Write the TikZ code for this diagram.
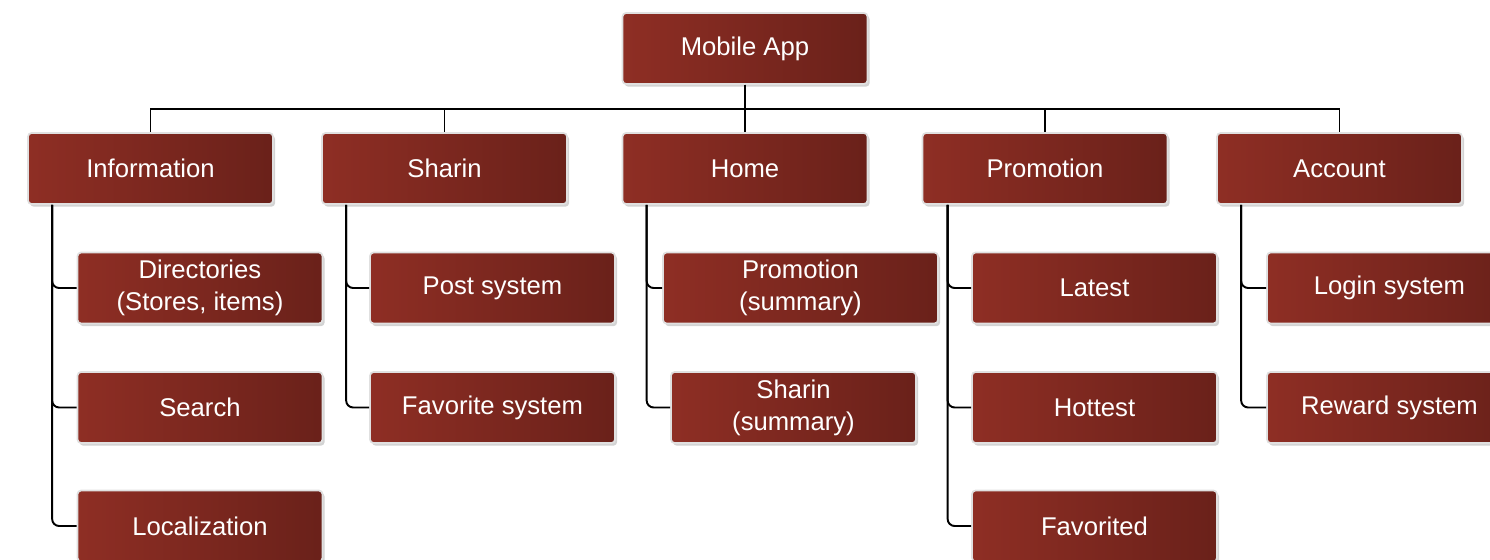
\documentclass[tikz,border=0pt]{standalone}
\usepackage{fontspec}
\setmainfont{Liberation Sans}
\usetikzlibrary{shadows}

\definecolor{boxlight}{RGB}{142,46,36}
\definecolor{boxdark}{RGB}{106,33,26}

\tikzset{
	box/.style={draw=white!88!black, line width=1pt, rounded corners=2pt,
		left color=boxlight, right color=boxdark, text=white,
		minimum width=4.9cm, minimum height=1.42cm, align=center,
		font=\fontsize{14.6}{18.2}\selectfont,
		drop shadow={shadow xshift=1.2pt, shadow yshift=-1.5pt, opacity=0.35}},
	bus/.style={line width=1.1pt},
	link/.style={line width=1.1pt, rounded corners=4pt}
}

\begin{document}
\begin{tikzpicture}[x=0.02cm, y=-0.02cm]
		\useasboundingbox (0,0) rectangle (1490,559);

		\node[box] (app) at (745,48.5) {Mobile App};

		\node[box] (info) at (150.5,168.5) {Information};
		\node[box] (sharin) at (444.5,168.5) {Sharin};
		\node[box] (home) at (745,168.5) {Home};
		\node[box] (promo) at (1045,168.5) {Promotion};
		\node[box] (account) at (1339.5,168.5) {Account};

		\draw[bus] (app.south) -- ++(0,24) -| (info.north);
		\draw[bus] (app.south) -- ++(0,24) -| (sharin.north);
		\draw[bus] (app.south) -- (home.north);
		\draw[bus] (app.south) -- ++(0,24) -| (promo.north);
		\draw[bus] (app.south) -- ++(0,24) -| (account.north);

		\node[box] (dir) at (200,288) {Directories\\(Stores, items)};
		\node[box] (search) at (200,407.5) {Search};
		\node[box] (local) at (200,526) {Localization};
		\draw[link] ([xshift=0.5cm]info.south west) |- (dir.west);
		\draw[link] ([xshift=0.5cm]info.south west) |- (search.west);
		\draw[link] ([xshift=0.5cm]info.south west) |- (local.west);

		\node[box] (post) at (492.5,288) {Post system};
		\node[box] (fav) at (492.5,407.5) {Favorite system};
		\draw[link] ([xshift=0.5cm]sharin.south west) |- (post.west);
		\draw[link] ([xshift=0.5cm]sharin.south west) |- (fav.west);

		\node[box, minimum width=5.5cm] (promsum) at (800.5,288) {Promotion\\(summary)};
		\node[box] (sharsum) at (793.5,407.5) {Sharin\\(summary)};
		\draw[link] ([xshift=0.5cm]home.south west) |- (promsum.west);
		\draw[link] ([xshift=0.5cm]home.south west) |- (sharsum.west);

		\node[box] (latest) at (1094.5,288) {Latest};
		\node[box] (hottest) at (1094.5,407.5) {Hottest};
		\node[box] (favd) at (1094.5,526) {Favorited};
		\draw[link] ([xshift=0.52cm]promo.south west) |- (latest.west);
		\draw[link] ([xshift=0.52cm]promo.south west) |- (hottest.west);
		\draw[link] ([xshift=0.52cm]promo.south west) |- (favd.west);

		\node[box] (login) at (1389.5,288) {Login system};
		\node[box] (reward) at (1389.5,407.5) {Reward system};
		\draw[link] ([xshift=0.5cm]account.south west) |- (login.west);
		\draw[link] ([xshift=0.5cm]account.south west) |- (reward.west);
	\end{tikzpicture}
\end{document}
